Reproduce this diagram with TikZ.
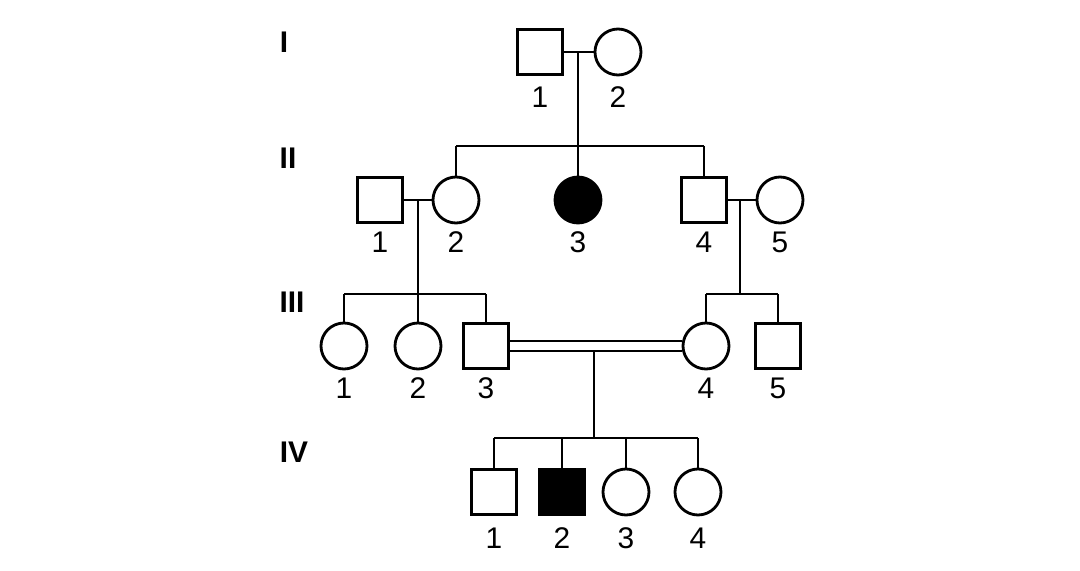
\documentclass[tikz,border=0pt]{standalone}
\usepackage{fontspec}
\setmainfont{Liberation Sans}
\begin{document}
\begin{tikzpicture}[x=0.02cm,y=-0.02cm,line width=1.6pt,
  male/.style={draw,rectangle,minimum size=0.9cm,inner sep=0pt},
  female/.style={draw,circle,minimum size=0.92cm,inner sep=0pt},
  aff/.style={fill=black},
  num/.style={font=\fontsize{17}{17}\selectfont},
  gen/.style={font=\bfseries\fontsize{17}{17}\selectfont}]
\useasboundingbox (0,0) rectangle (1080,571);
\node[gen] at (284,42) {I};
\node[gen] at (288,158) {II};
\node[gen] at (292,302) {III};
\node[gen] at (294,452) {IV};
% Gen I
\node[male] (I1) at (540,52) {};
\node[female] (I2) at (618,52) {};
\node[num] at (540,97) {1}; \node[num] at (618,97) {2};
\coordinate (m1) at (578,52);
\draw (I1) -- (I2);
\coordinate (s1) at (578,146);
\draw (m1) -- (s1);
% Gen II
\node[male] (II1) at (380,200) {};
\node[female] (II2) at (456,200) {};
\node[female,aff] (II3) at (578,200) {};
\node[male] (II4) at (704,200) {};
\node[female] (II5) at (780,200) {};
\foreach \x/\n in {380/1,456/2,578/3,704/4,780/5} \node[num] at (\x,242) {\n};
\coordinate (s1l) at (456,146); \coordinate (s1r) at (704,146);
\draw (s1l) -- (s1r);
\draw (s1l) -- (II2); \draw (s1) -- (II3); \draw (s1r) -- (II4);
\draw (II1) -- (II2); \draw (II4) -- (II5);
\coordinate (m2) at (418,200); \coordinate (s2) at (418,294);
\coordinate (m3) at (740,200); \coordinate (s3) at (740,294);
\draw (m2) -- (s2); \draw (m3) -- (s3);
% Gen III
\node[female] (III1) at (344,346) {};
\node[female] (III2) at (418,346) {};
\node[male] (III3) at (486,346) {};
\node[female] (III4) at (706,346) {};
\node[male] (III5) at (778,346) {};
\foreach \x/\n in {344/1,418/2,486/3,706/4,778/5} \node[num] at (\x,388) {\n};
\coordinate (s2l) at (344,294); \coordinate (s2r) at (486,294);
\draw (s2l) -- (s2r); \draw (s2l) -- (III1); \draw (s2) -- (III2); \draw (s2r) -- (III3);
\coordinate (s3l) at (706,294); \coordinate (s3r) at (778,294);
\draw (s3l) -- (s3r); \draw (s3l) -- (III4); \draw (s3r) -- (III5);
\draw ([yshift=0.1cm]III3.east) -- ([yshift=0.1cm]III4.west);
\draw ([yshift=-0.1cm]III3.east) -- ([yshift=-0.1cm]III4.west);
\coordinate (m4) at (594,351); \coordinate (s4) at (594,438);
\draw (m4) -- (s4);
% Gen IV
\node[male] (IV1) at (494,492) {};
\node[male,aff] (IV2) at (562,492) {};
\node[female] (IV3) at (626,492) {};
\node[female] (IV4) at (698,492) {};
\foreach \x/\n in {494/1,562/2,626/3,698/4} \node[num] at (\x,538) {\n};
\coordinate (s4l) at (494,438); \coordinate (s4r) at (698,438);
\coordinate (s42) at (562,438); \coordinate (s43) at (626,438);
\draw (s4l) -- (s4r);
\draw (s4l) -- (IV1); \draw (s42) -- (IV2); \draw (s43) -- (IV3); \draw (s4r) -- (IV4);
\end{tikzpicture}
\end{document}
